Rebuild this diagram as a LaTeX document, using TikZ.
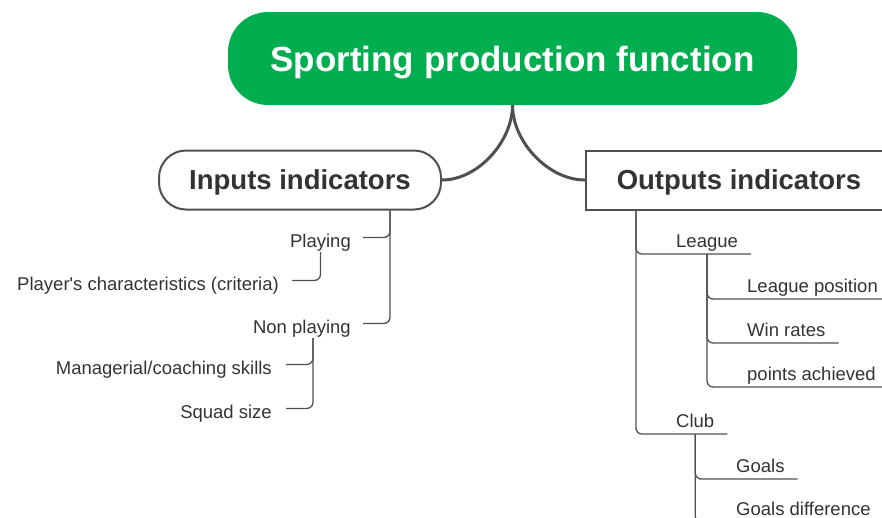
\documentclass[tikz,border=0pt]{standalone}
\usepackage{fontspec}
\setmainfont{Liberation Sans}
\usetikzlibrary{calc}

\definecolor{titlegreen}{RGB}{0,174,80}
\definecolor{linegrey}{RGB}{80,80,80}
\definecolor{textgrey}{RGB}{51,51,51}

\tikzset{
  titlebox/.style={fill=titlegreen, rounded corners=40pt, text=white, inner sep=0pt,
    minimum width=569pt, minimum height=93pt, text height=25pt, text depth=0pt,
    font=\fontsize{35}{40}\selectfont\bfseries},
  topicbox/.style={draw=linegrey, line width=2pt, fill=white, text=textgrey, inner sep=0pt,
    minimum height=59pt, text height=19.8pt, text depth=0pt,
    font=\fontsize{27.5}{32}\selectfont\bfseries},
  leaf/.style={inner sep=0pt, text=textgrey, text height=19.2pt, text depth=0pt,
    font=\fontsize{18.5}{22}\selectfont},
  leafleft/.style={leaf, anchor=base east},
  leafright/.style={leaf, anchor=base west},
  stem/.style={draw=linegrey, line width=3pt},
  branch/.style={draw=linegrey, line width=1.3pt, rounded corners=6pt}
}

\begin{document}
\begin{tikzpicture}[x=1pt, y=-1pt]
  %%%%% frame %%%%%
  \useasboundingbox (0,0) rectangle (882,517);
  \clip (0,0) rectangle (882,517);

  %%%%% main topics %%%%%
  \node[titlebox] (title) at (512.5,58.5) {Sporting production function};
  \node[topicbox, rounded corners=27pt, minimum width=282pt] (inputs) at (300,180) {Inputs indicators};
  \node[topicbox, minimum width=306pt] (outputs) at (739,180) {Outputs indicators};

  \draw[stem] (title.south) to[out=-90, in=0, looseness=0.9] (inputs.east);
  \draw[stem] (title.south) to[out=-90, in=180, looseness=0.9] (outputs.west);

  %%%%% inputs %%%%%
  \node[leafleft] (playing) at (351,247) {Playing};
  \node[leafleft] (charact) at (279,290) {Player\textquotesingle s characteristics (criteria)};
  \node[leafleft] (nonplaying) at (351,333) {Non playing};
  \node[leafleft] (managerial) at (272,374) {Managerial/coaching skills};
  \node[leafleft] (squad) at (272,418) {Squad size};

  \draw[branch] ([xshift=-52]inputs.south east) |- ([xshift=12]playing.east);
  \draw[branch] ([xshift=-52]inputs.south east) |- ([xshift=12]nonplaying.east);
  \draw[branch] ([yshift=-5]playing.south) |- ([xshift=13]charact.east);
  \draw[branch] ([xshift=11,yshift=-5]nonplaying.south) |- ([xshift=14]managerial.east);
  \draw[branch] ([xshift=11,yshift=-5]nonplaying.south) |- ([xshift=14]squad.east);

  %%%%% outputs %%%%%
  \node[leafright] (league) at (676,247) {League};
  \node[leafright] (leaguepos) at (747,292) {League position};
  \node[leafright] (winrates) at (747,336) {Win rates};
  \node[leafright] (points) at (747,380) {points achieved};
  \node[leafright] (club) at (676,427) {Club};
  \node[leafright] (goals) at (736,472) {Goals};
  \node[leafright] (goalsdiff) at (736,515) {Goals difference};

  \draw[branch] ([xshift=51]outputs.south west) |- ([xshift=13,yshift=-7]league.base east);
  \draw[branch] ([xshift=51]outputs.south west) |- ([xshift=13,yshift=-7]club.base east);
  \foreach \sub in {leaguepos,winrates,points}
    \draw[branch] ([yshift=-7]league.base) |- ([xshift=13,yshift=-7]\sub.base east);
  \foreach \sub in {goals,goalsdiff}
    \draw[branch] ([yshift=-7]club.base) |- ([xshift=13,yshift=-7]\sub.base east);
\end{tikzpicture}
\end{document}
